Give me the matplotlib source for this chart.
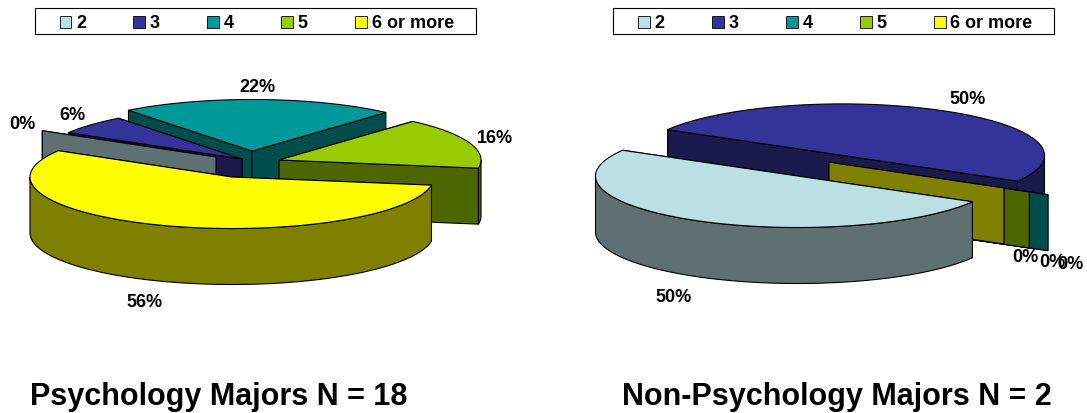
import numpy as np
import matplotlib
matplotlib.use('agg')
import matplotlib.pyplot as plt
from matplotlib.patches import Polygon, Rectangle

plt.rcParams['font.family'] = ['Liberation Sans', 'DejaVu Sans']

categories = ['2', '3', '4', '5', '6 or more']
psych_pct = [0, 6, 22, 16, 56]
nonpsych_pct = [50, 50, 0, 0, 0]
psych_title = 'Psychology Majors N = 18'
nonpsych_title = 'Non-Psychology Majors N = 2'

colors = ['#BBE0E3', '#333399', '#009999', '#99CC00', '#FFFF00']

# pie shape, all in pixels of the 1087x414 canvas
RX = 202.0
RY = 51.5
DEPTH = 56.0
LW = 0.8


def darker(col):
    return tuple(0.5 * c for c in matplotlib.colors.to_rgb(col))


def rim(apex, t):
    t = np.radians(t)
    return np.column_stack([apex[0] + RX * np.cos(t), apex[1] - RY * np.sin(t)])


def draw_slice(ax, apex, t0, t1, col):
    # t0 > t1, angles go clockwise. Back cut face first, then rim wall, then top
    wall = darker(col)
    for t in sorted([t0, t1], key=lambda a: -np.sin(np.radians(a))):
        p = rim(apex, np.array([t]))[0]
        ax.add_patch(Polygon([apex, p, (p[0], p[1] + DEPTH), (apex[0], apex[1] + DEPTH)],
                             fc=wall, ec='black', lw=LW))
    if t0 == t1:
        return
    tt = np.linspace(t0, t1, 200)
    top = rim(apex, tt)
    # only the part of the rim on the viewer's side shows a wall
    for k in range(-1, 1):
        lo, hi = max(t1, 360 * k - 180), min(t0, 360 * k)
        if hi > lo:
            f = rim(apex, np.linspace(hi, lo, 120))
            b = f + [0, DEPTH]
            ax.add_patch(Polygon(np.vstack([f, b[::-1]]), fc=wall, ec='black', lw=LW))
    ax.add_patch(Polygon(np.vstack([[apex], top]), fc=col, ec='black', lw=LW))


def draw_pie(ax, pct, start, apexes, order, label_pos):
    t = start
    spans = []
    for v in pct:
        spans.append((t, t - 3.6 * v))
        t = t - 3.6 * v
    for i in order:
        draw_slice(ax, apexes[i], spans[i][0], spans[i][1], colors[i])
    for i in range(len(pct)):
        ax.text(label_pos[i][0], label_pos[i][1], '%d%%' % pct[i], ha='center', va='center',
                fontsize=13, fontweight='bold', color='black', zorder=5)


def draw_legend(ax, x0, x1, key0, pitch):
    ax.add_patch(Rectangle((x0, 8.5), x1 - x0, 26.5, fc='white', ec='black', lw=0.8))
    for i, name in enumerate(categories):
        kx = key0 + i * pitch
        ax.add_patch(Rectangle((kx, 17), 11.5, 11.5, fc=colors[i], ec='black', lw=0.6))
        ax.text(kx + 16.5, 23.5, name, ha='left', va='center', fontsize=13, fontweight='bold')


fig = plt.figure(figsize=(10.87, 4.14), dpi=100)
ax = fig.add_axes([0, 0, 1, 1])
ax.set_xlim(0, 1087)
ax.set_ylim(414, 0)
ax.axis('off')

draw_legend(ax, 34.5, 476, 59.5, 73.9)
draw_legend(ax, 612.5, 1054, 638, 74)

draw_pie(ax, psych_pct, 149.3,
         [(216, 158), (242, 160), (252, 152), (279, 161), (232, 178)],
         [2, 3, 1, 0, 4],
         [(22, 125), (72.5, 116), (257, 87), (495, 139), (144.5, 303)])
draw_pie(ax, nonpsych_pct, -30.0,
         [(797.5, 177), (842.5, 156.4), (873, 169.9), (854.4, 167.3), (829, 163.2)],
         [1, 2, 3, 4, 0],
         [(674, 298), (968, 100), (1070.5, 265), (1052.5, 263), (1025, 258)])

ax.text(218.5, 397, psych_title, ha='center', va='center', fontsize=22, fontweight='bold')
ax.text(837, 397, nonpsych_title, ha='center', va='center', fontsize=22, fontweight='bold')

fig.savefig('out.png', dpi=100)
plt.close(fig)
